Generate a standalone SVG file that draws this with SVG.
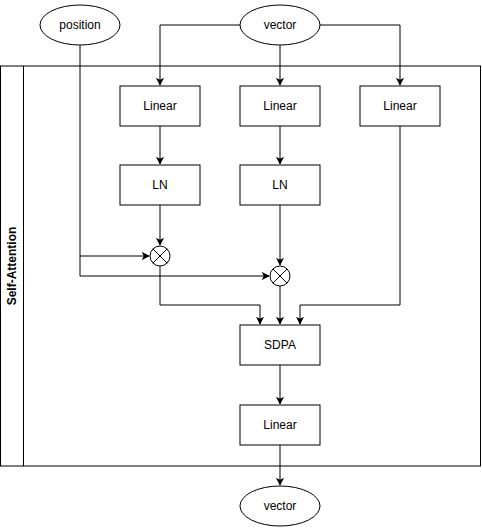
<svg xmlns="http://www.w3.org/2000/svg" width="482" height="530" viewBox="0 0 482 530">
<defs>
<style>
.n{fill:#fff;stroke:#000;stroke-width:1}
.t{font-family:"Liberation Sans",Arial,sans-serif;font-size:12px;fill:#000;text-anchor:middle;dominant-baseline:central}
.e{fill:none;stroke:#000;stroke-width:1}
</style>
<marker id="a" viewBox="0 0 10 10" refX="9" refY="5" markerWidth="8" markerHeight="8" markerUnits="userSpaceOnUse" orient="auto">
<path d="M0,0 L10,5 L0,10 L2.5,5 Z" fill="#000"/>
</marker>
</defs>
<rect width="482" height="530" fill="#fff"/>
<g id="lane">
<rect class="n" x="0.5" y="66" width="480" height="400"/>
<line class="e" x1="23.5" y1="66" x2="23.5" y2="466"/>
<text class="t" style="font-weight:bold" transform="translate(12,266) rotate(-90)">Self-Attention</text>
</g>
<g id="edges">
<path class="e" d="M240,25 H160 V85" marker-end="url(#a)"/>
<path class="e" d="M280,45 V85" marker-end="url(#a)"/>
<path class="e" d="M320,25 H400 V85" marker-end="url(#a)"/>
<path class="e" d="M160,126 V164" marker-end="url(#a)"/>
<path class="e" d="M280,126 V164" marker-end="url(#a)"/>
<path class="e" d="M160,205 V245" marker-end="url(#a)"/>
<path class="e" d="M280,205 V265" marker-end="url(#a)"/>
<path class="e" d="M80,45 V256 H149" marker-end="url(#a)"/>
<path class="e" d="M80,256 V276 H269" marker-end="url(#a)"/>
<path class="e" d="M160,266 V305 H260 V324" marker-end="url(#a)"/>
<path class="e" d="M280,286 V324" marker-end="url(#a)"/>
<path class="e" d="M400,126 V305 H300 V324" marker-end="url(#a)"/>
<path class="e" d="M280,365 V404" marker-end="url(#a)"/>
<path class="e" d="M280,445 V485" marker-end="url(#a)"/>
</g>
<g id="position"><ellipse class="n" cx="80" cy="25" rx="40" ry="20"/><text class="t" x="80" y="25">position</text></g>
<g id="vector_in"><ellipse class="n" cx="280" cy="25" rx="40" ry="20"/><text class="t" x="280" y="25">vector</text></g>
<g id="linear1"><rect class="n" x="120" y="86" width="80" height="40"/><text class="t" x="160" y="106">Linear</text></g>
<g id="linear2"><rect class="n" x="240" y="86" width="80" height="40"/><text class="t" x="280" y="106">Linear</text></g>
<g id="linear3"><rect class="n" x="360" y="86" width="80" height="40"/><text class="t" x="400" y="106">Linear</text></g>
<g id="ln1"><rect class="n" x="120" y="165" width="80" height="40"/><text class="t" x="160" y="185">LN</text></g>
<g id="ln2"><rect class="n" x="240" y="165" width="80" height="40"/><text class="t" x="280" y="185">LN</text></g>
<g id="mul1"><circle class="n" cx="160" cy="256" r="10"/><path class="e" d="M152.9,248.9 L167.1,263.1 M167.1,248.9 L152.9,263.1"/></g>
<g id="mul2"><circle class="n" cx="280" cy="276" r="10"/><path class="e" d="M272.9,268.9 L287.1,283.1 M287.1,268.9 L272.9,283.1"/></g>
<g id="sdpa"><rect class="n" x="240" y="325" width="80" height="40"/><text class="t" x="280" y="345">SDPA</text></g>
<g id="linear4"><rect class="n" x="240" y="405" width="80" height="40"/><text class="t" x="280" y="425">Linear</text></g>
<g id="vector_out"><ellipse class="n" cx="280" cy="506" rx="40" ry="20"/><text class="t" x="280" y="506">vector</text></g>
</svg>
